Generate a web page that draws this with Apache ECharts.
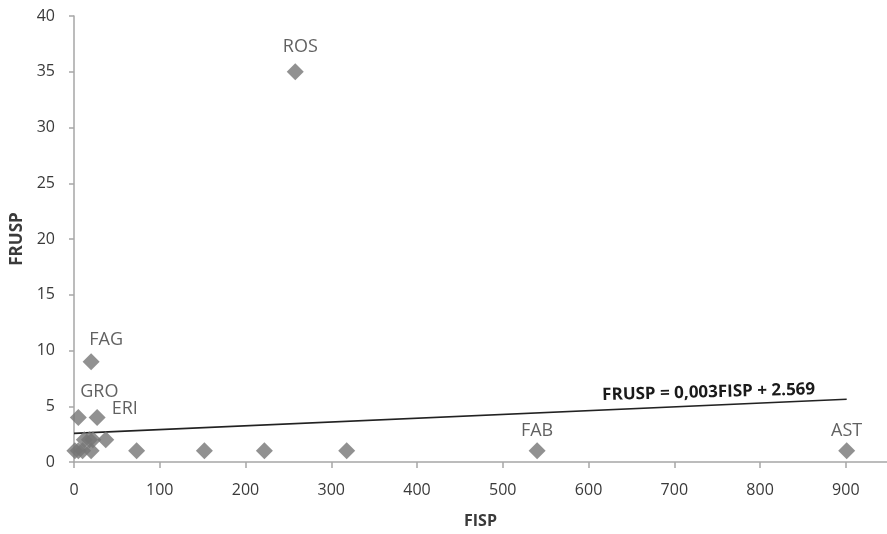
<!DOCTYPE html>
<html>
<head>
<meta charset="utf-8">
<script src="https://cdn.jsdelivr.net/npm/echarts@6/dist/echarts.min.js"></script>
<style>
html,body{margin:0;padding:0;background:#fff;}
#chart{width:887px;height:534px;}
</style>
</head>
<body>
<div id="chart"></div>
<script>
// ---- data ----
const fispValues  = [1, 5, 10, 20, 12, 18, 22, 37, 5, 27, 20, 73, 152, 222, 318, 258, 540, 901];
const fruspValues = [1, 1, 1, 1, 2, 2, 2, 2, 4, 4, 9, 1, 1, 1, 1, 35, 1, 1];
const pointLabels = ['', '', '', '', '', '', '', 'ERI', 'GRO', '', 'FAG', '', '', '', '', 'ROS', 'FAB', 'AST'];
const xTicks = [0, 100, 200, 300, 400, 500, 600, 700, 800, 900];
const yTicks = [0, 5, 10, 15, 20, 25, 30, 35, 40];
const xMax = 948;
const yMax = 40;
const trendSlope = 0.0034;
const trendIntercept = 2.569;
const trendRange = [0, 901];
const equationText = 'FRUSP = 0,003FISP + 2.569';

// ---- label placement (style only) ----
const labelOffsets = { ROS: [5, -5], FAG: [15, -2], GRO: [21, -6], ERI: [19, -11], FAB: [0, 0], AST: [0, 0] };

const pts = fispValues.map((x, i) => {
  const item = { value: [x, fruspValues[i]], name: pointLabels[i] };
  if (pointLabels[i]) {
    item.label = { show: true, offset: labelOffsets[pointLabels[i]] || [0, 0] };
  }
  return item;
});
const trendData = trendRange.map(x => [x, trendIntercept + trendSlope * x]);

const axisGray = '#a6a6a6';
const textGray = '#3a3a3a';
const font = '"Open Sans", "Noto Sans", sans-serif';

const chart = echarts.init(document.getElementById('chart'), null, { renderer: 'canvas' });
chart.setOption({
  animation: false,
  backgroundColor: '#fff',
  grid: { left: 74, top: 16, bottom: 70, right: 0, containLabel: false },
  xAxis: {
    type: 'value', min: 0, max: xMax,
    name: 'FISP', nameLocation: 'middle', nameGap: 51,
    nameTextStyle: { fontFamily: font, fontWeight: 'bold', fontSize: 16, color: textGray },
    axisLine: { show: true, lineStyle: { color: axisGray, width: 1.5 } },
    axisTick: { show: true, inside: false, length: 6, customValues: xTicks, lineStyle: { color: axisGray, width: 1.5 } },
    axisLabel: { fontFamily: font, fontSize: 16, color: textGray, margin: 20, customValues: xTicks },
    splitLine: { show: false }
  },
  yAxis: {
    type: 'value', min: 0, max: yMax,
    name: 'FRUSP', nameLocation: 'middle', nameGap: 48, nameRotate: 90,
    nameTextStyle: { fontFamily: font, fontWeight: 'bold', fontSize: 17, color: textGray },
    axisLine: { show: true, lineStyle: { color: axisGray, width: 1.5 } },
    axisTick: { show: true, inside: false, length: 5, customValues: yTicks, lineStyle: { color: axisGray, width: 1.5 } },
    axisLabel: { fontFamily: font, fontSize: 16, color: textGray, margin: 19, customValues: yTicks },
    splitLine: { show: false }
  },
  series: [
    {
      type: 'line',
      data: trendData,
      symbol: 'none',
      lineStyle: { color: '#222', width: 1.6 },
      z: 1,
      silent: true
    },
    {
      type: 'scatter',
      data: pts,
      symbol: 'diamond',
      symbolSize: 17,
      itemStyle: { color: '#757575' },
      label: {
        show: false, position: 'top', distance: 2,
        formatter: p => p.name,
        fontFamily: font, fontSize: 18, color: textGray
      },
      z: 2
    }
  ],
  graphic: [
    {
      type: 'text',
      left: 602, top: 381,
      rotation: 0.027,
      style: { text: equationText, font: 'bold 17px "Open Sans", sans-serif', fill: '#1a1a1a' }
    }
  ]
});
</script>
</body>
</html>
